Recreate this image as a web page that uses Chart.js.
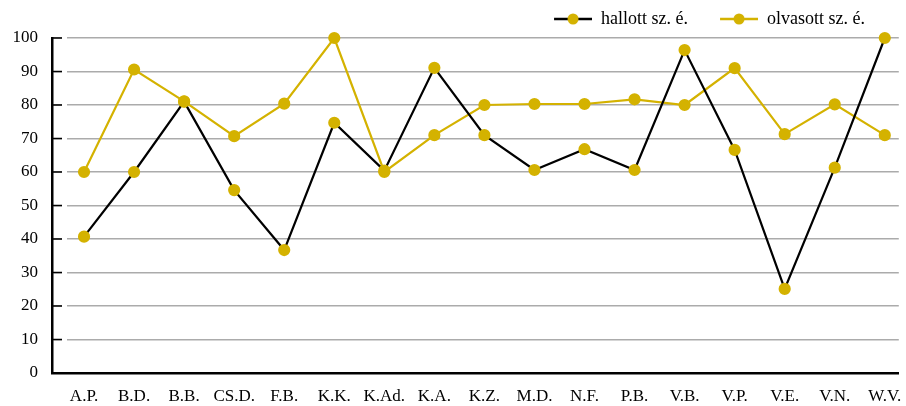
<!DOCTYPE html>
<html>
<head>
<meta charset="utf-8">
<script src="https://cdn.jsdelivr.net/npm/chart.js@4/dist/chart.umd.min.js"></script>
<style>
  html, body { margin: 0; padding: 0; background: #fff; }
  #wrap { width: 906px; height: 406px; }
</style>
</head>
<body>
<div id="wrap"><canvas id="c" width="906" height="406"></canvas></div>
<script>
// Names on the x axis
const categories = ['A.P.', 'B.D.', 'B.B.', 'CS.D.', 'F.B.', 'K.K.', 'K.Ad.', 'K.A.', 'K.Z.',
                    'M.D.', 'N.F.', 'P.B.', 'V.B.', 'V.P.', 'V.E.', 'V.N.', 'W.V.'];

// Scores per person
const hallott  = [40.7, 60, 81, 54.6, 36.7, 74.7, 60.4, 91.1, 71, 60.6, 66.8, 60.6, 96.4, 66.6, 25.1, 61.3, 100];
const olvasott = [60, 90.6, 81.1, 70.7, 80.4, 100, 60, 71, 80, 80.3, 80.3, 81.7, 80, 91, 71.3, 80.2, 71];

const yTicks = [0, 10, 20, 30, 40, 50, 60, 70, 80, 90, 100];

const GOLD = '#D4B200';
const FONT = '"Liberation Serif", "DejaVu Serif", serif';

// Legend symbol: short line with a dot in the middle, with blank space on its left
// so that consecutive legend entries sit further apart
const SYMBOL_W = 60, LINE_W = 38;
function legendSymbol(lineColor) {
  const cv = document.createElement('canvas');
  cv.width = SYMBOL_W; cv.height = 12;
  const g = cv.getContext('2d');
  const x0 = SYMBOL_W - LINE_W;
  g.strokeStyle = lineColor; g.lineWidth = 2.5;
  g.beginPath(); g.moveTo(x0, 6); g.lineTo(SYMBOL_W, 6); g.stroke();
  g.fillStyle = GOLD;
  g.beginPath(); g.arc(x0 + LINE_W / 2, 6, 5.5, 0, Math.PI * 2); g.fill();
  return cv;
}

const toPoints = arr => arr.map((v, i) => ({ x: i, y: v }));

// Keep the legend band a fixed height and pull its entries in from the right edge
const LEGEND_RIGHT_INSET = 25;
const legendLayout = {
  id: 'legendLayout',
  beforeInit(chart) {
    const lg = chart.legend;
    if (!lg) return;
    const fit = lg.fit.bind(lg);
    lg.fit = function () { fit(); this.height = 38; this.minSize = { width: this.width, height: 38 }; };
    const draw = lg._draw.bind(lg);
    lg._draw = function () {
      const r = this.right;
      this.right = r - LEGEND_RIGHT_INSET;
      draw();
      this.right = r;
    };
  }
};

// Short black tick marks on the inside of the y axis, with a small gap before the grid
const innerTicks = {
  id: 'innerTicks',
  beforeDatasetsDraw(chart) {
    const { ctx, scales: { y }, chartArea } = chart;
    ctx.save();
    yTicks.forEach(v => {
      if (v === 0) return;
      const py = y.getPixelForValue(v);
      ctx.fillStyle = '#fff';
      ctx.fillRect(chartArea.left + 10, py - 2, 5, 4);
      ctx.strokeStyle = '#000';
      ctx.lineWidth = 1.5;
      ctx.beginPath();
      ctx.moveTo(chartArea.left, py);
      ctx.lineTo(chartArea.left + 10, py);
      ctx.stroke();
    });
    ctx.restore();
  }
};

new Chart(document.getElementById('c'), {
  type: 'line',
  data: {
    datasets: [
      {
        label: 'hallott sz. é.',
        data: toPoints(hallott),
        borderColor: '#000',
        borderWidth: 2.2,
        pointBackgroundColor: GOLD,
        pointBorderColor: GOLD,
        pointRadius: 5,
        pointHoverRadius: 5,
        tension: 0,
        clip: false
      },
      {
        label: 'olvasott sz. é.',
        data: toPoints(olvasott),
        borderColor: GOLD,
        borderWidth: 2.2,
        pointBackgroundColor: GOLD,
        pointBorderColor: GOLD,
        pointRadius: 5,
        pointHoverRadius: 5,
        tension: 0,
        clip: false
      }
    ]
  },
  options: {
    responsive: false,
    animation: false,
    layout: { padding: { left: 0, right: 6, top: 0, bottom: 0 } },
    plugins: {
      tooltip: { enabled: false },
      legend: {
        position: 'top',
        align: 'end',
        labels: {
          usePointStyle: true,
          pointStyleWidth: SYMBOL_W,
          padding: 10,
          color: '#000',
          font: { family: FONT, size: 18 },
          generateLabels(chart) {
            return chart.data.datasets.map((ds, i) => ({
              text: ds.label,
              pointStyle: legendSymbol(ds.borderColor),
              fillStyle: GOLD,
              strokeStyle: ds.borderColor,
              lineWidth: 0,
              hidden: false,
              datasetIndex: i,
              fontColor: '#000'
            }));
          }
        }
      }
    },
    scales: {
      x: {
        type: 'linear',
        min: -0.64,
        max: 16.28,
        afterBuildTicks(scale) { scale.ticks = categories.map((_, i) => ({ value: i })); },
        afterFit(scale) { scale.height = 33; scale.paddingRight = 0; scale.paddingLeft = 0; },
        grid: { display: false, drawTicks: false },
        border: { display: true, color: '#000', width: 2.5 },
        ticks: {
          autoSkip: false,
          maxRotation: 0,
          padding: 13,
          color: '#000',
          font: { family: FONT, size: 17 },
          callback: v => categories[v]
        }
      },
      y: {
        min: 0,
        max: 100,
        afterBuildTicks(scale) { scale.ticks = yTicks.map(v => ({ value: v })); },
        afterFit(scale) { scale.width = 52; scale.paddingTop = 0; scale.paddingBottom = 0; },
        grid: { color: '#ababab', lineWidth: 1.5, drawTicks: false },
        border: { display: true, color: '#000', width: 2.5 },
        ticks: {
          padding: 14,
          color: '#000',
          font: { family: FONT, size: 17 }
        }
      }
    }
  },
  plugins: [legendLayout, innerTicks]
});
</script>
</body>
</html>
